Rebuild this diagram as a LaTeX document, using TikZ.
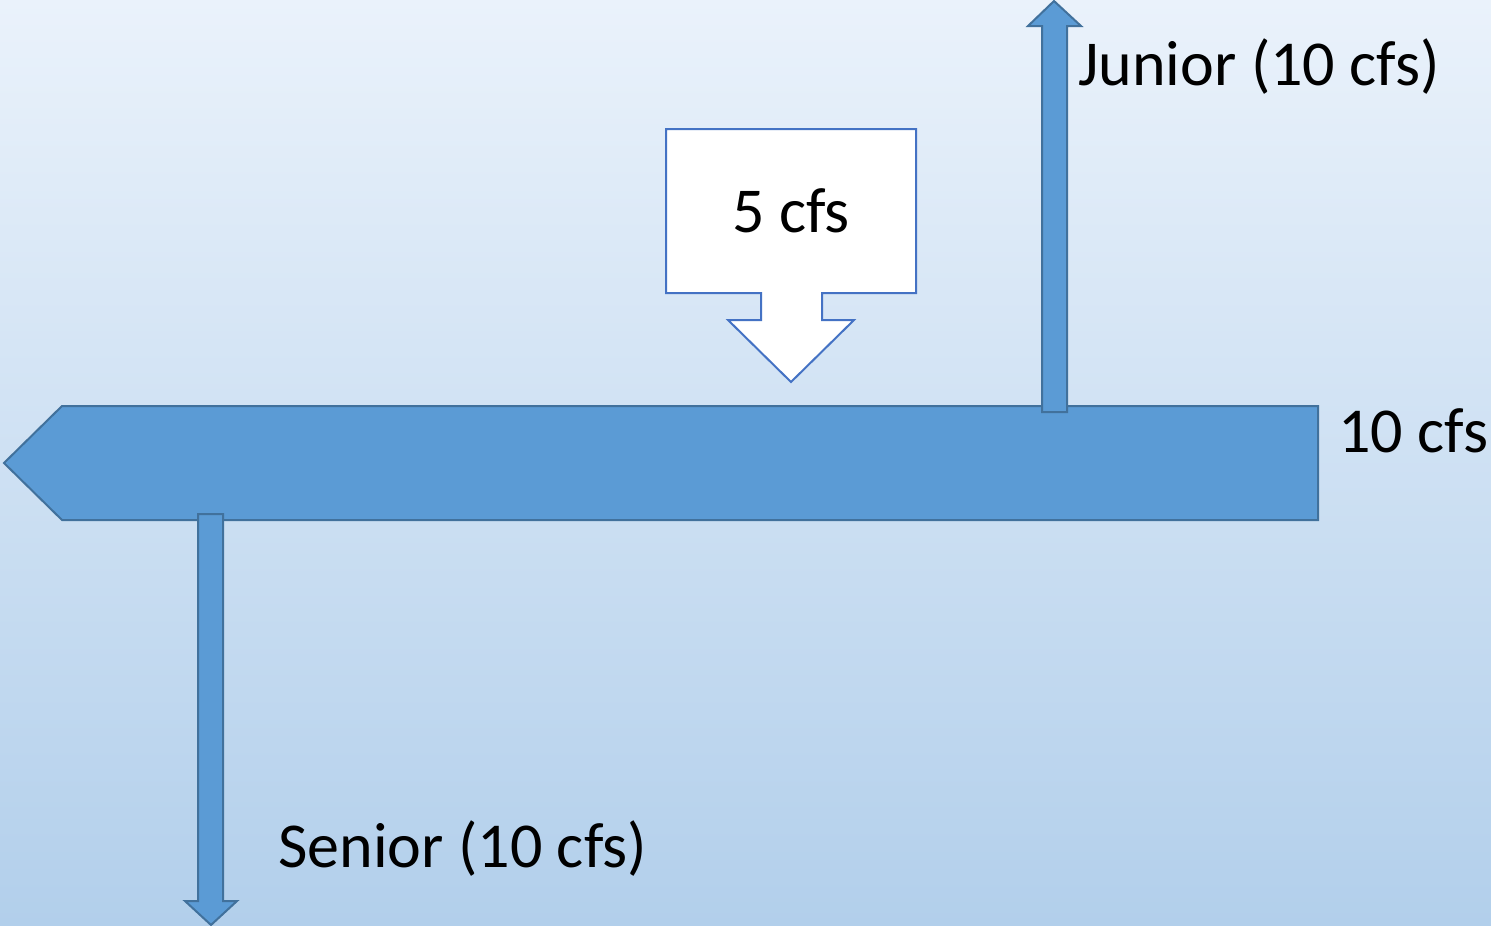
\documentclass[tikz,border=0pt]{standalone}
\usepackage{fontspec}
\setmainfont{Carlito}
\begin{document}
\begin{tikzpicture}[x=1pt,y=-1pt,
  flow/.style={fill=flowfill,draw=flowline,line width=2pt,line join=miter},
  callout/.style={fill=white,draw=calloutline,line width=2pt,line join=miter},
  txt/.style={inner sep=0pt,font=\fontsize{64}{64}\selectfont},
  lbl/.style={txt,anchor=base west}]
\definecolor{flowfill}{HTML}{5B9BD5}
\definecolor{flowline}{HTML}{41719C}
\definecolor{calloutline}{HTML}{4472C4}
\definecolor{bgtop}{HTML}{EAF2FB}
\definecolor{bgbot}{HTML}{B2CFEB}
% background
\shade[top color=bgtop,bottom color=bgbot] (0,0) rectangle (1491,926);
\useasboundingbox (0,0) rectangle (1491,926);
% main stream flowing left
\draw[flow] (4,463) -- (62,406) -- (1318,406) -- (1318,520) -- (62,520) -- cycle;
% junior diversion (up)
\draw[flow] (1042,412) -- (1042,26) -- (1028,26) -- (1054,1) -- (1081,26) -- (1067,26) -- (1067,412) -- cycle;
% senior diversion (down)
\draw[flow] (198,514) -- (223,514) -- (223,901) -- (237,901) -- (211,925) -- (185,901) -- (198,901) -- cycle;
% tributary inflow callout
\draw[callout] (666,129) -- (916,129) -- (916,293) -- (822,293) -- (822,320) -- (854,320)
  -- (791,382) -- (728,320) -- (761,320) -- (761,293) -- (666,293) -- cycle;
\node[txt,anchor=base] (inflow) at (791,232) {5 cfs};
\node[lbl] (junior) at (1078,85) {Junior (10 cfs)};
\node[lbl] (stream) at (1338,452) {10 cfs};
\node[lbl] (senior) at (278,867) {Senior (10 cfs)};
\end{tikzpicture}
\end{document}
